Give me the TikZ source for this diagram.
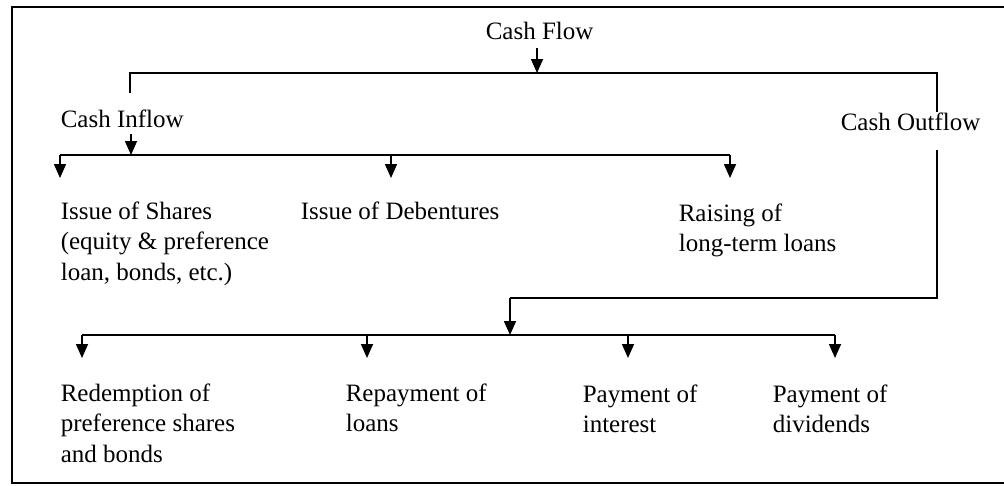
\documentclass[tikz,border=0pt]{standalone}
\usepackage{fontspec}
\setmainfont{Liberation Serif}
\usetikzlibrary{arrows.meta}
\begin{document}
\begin{tikzpicture}[x=1pt,y=-1pt,line width=1.6pt,line join=miter,
  lbl/.style={anchor=north west,inner sep=0pt,align=left,
              font=\fontsize{25}{30.5}\selectfont},
  arr/.style={-{Triangle[width=12pt,length=14pt]}},
  frame/.style={line width=1.8pt}]
\useasboundingbox (0,0) rectangle (1004,485);

% outer frame (open on the right)
\draw[frame] (1004,7) -- (12,7) -- (12,483) -- (1004,483);

% labels (north west corner = top of the first line)
\node[lbl] (cf)   at (485,21)  {Cash Flow};
\node[lbl] (cin)  at (60,109)  {Cash Inflow};
\node[lbl] (cout) at (840,112) {Cash Outflow};
\node[lbl] (s1)   at (60,201)  {Issue of Shares\\(equity \& preference\\loan, bonds, etc.)};
\node[lbl] (s2)   at (300,201) {Issue of Debentures};
\node[lbl] (s3)   at (678,203) {Raising of\\long-term loans};
\node[lbl] (o1)   at (60,383)  {Redemption of\\preference shares\\and bonds};
\node[lbl] (o2)   at (345,383) {Repayment of\\loans};
\node[lbl] (o3)   at (582,384) {Payment of\\interest};
\node[lbl] (o4)   at (772,384) {Payment of\\dividends};

% junction points
\coordinate (top)  at (537,73);
\coordinate (topL) at (130,73);
\coordinate (topR) at (937,73);
\coordinate (inA)  at (131,155);
\coordinate (midL) at (60,155);
\coordinate (midR) at (730,155);
\coordinate (midC) at (391,155);
\coordinate (outT) at (937,150);
\coordinate (outB) at (937,298);
\coordinate (outJ) at (510,298);
\coordinate (botC) at (510,335);
\coordinate (botL) at (82,335);
\coordinate (botR) at (835,335);
\coordinate (bot2) at (367,335);
\coordinate (bot3) at (628,335);

% cash flow splits into inflow and outflow
\draw[arr] (top |- cf.south) ++(0,8) -- (top);
\draw (topL |- cin.north) ++(0,-16) -- (topL) -- (topR) -- (topR |- cout.north) ++(0,-12);

% inflow branches
\draw[arr] (inA |- cin.south) ++(0,6) -- (inA);
\draw (midL) -- (midR);
\draw[arr] (midL) -- (midL |- 0,178);
\draw[arr] (midC) -- (midC |- 0,178);
\draw[arr] (midR) -- (midR |- 0,178);

% outflow branches
\draw (outT) -- (outB) -- (outJ);
\draw[arr] (outJ) -- (botC);
\draw (botL) -- (botR);
\draw[arr] (botL) -- (botL |- 0,358);
\draw[arr] (bot2) -- (bot2 |- 0,358);
\draw[arr] (bot3) -- (bot3 |- 0,358);
\draw[arr] (botR) -- (botR |- 0,358);
\end{tikzpicture}
\end{document}
